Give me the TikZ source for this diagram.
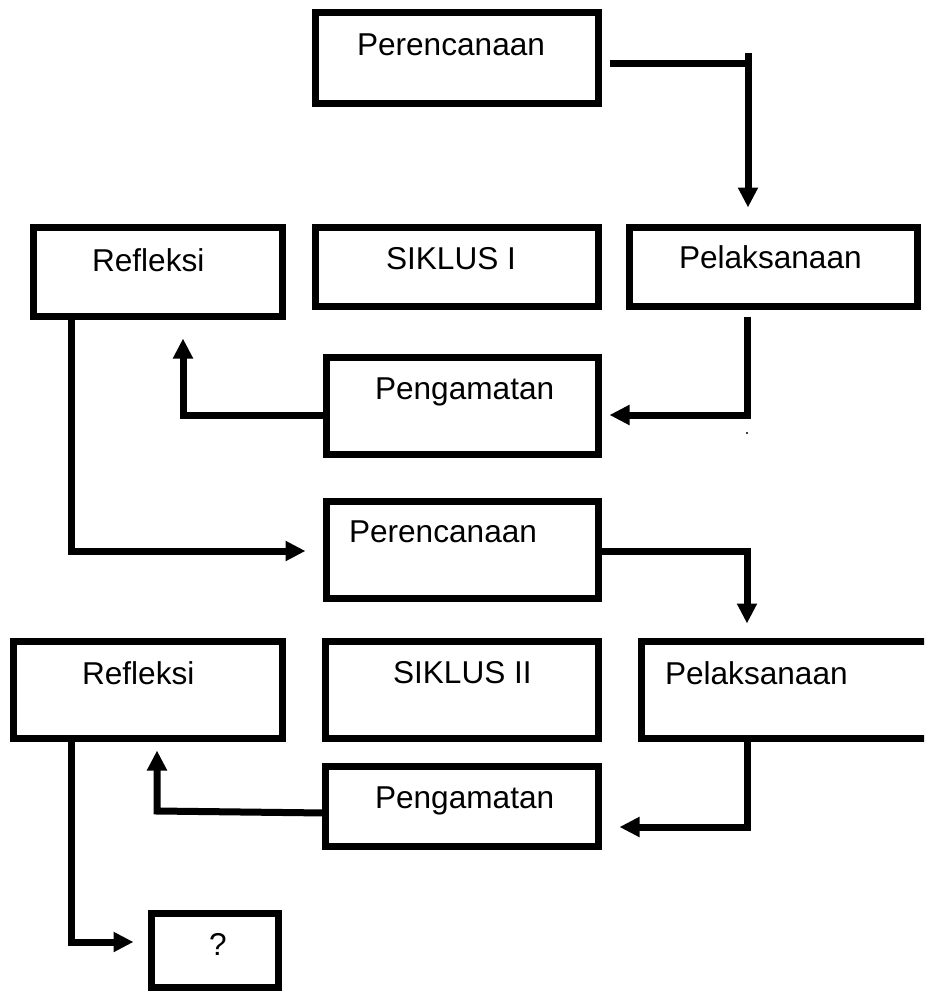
\documentclass[tikz,border=0pt]{standalone}
\usepackage{fontspec}
\setmainfont{Liberation Sans}
\usetikzlibrary{arrows.meta}
\tikzset{
  box/.style={draw, line width=7pt, inner sep=0pt, outer sep=0pt, rectangle},
  lbl/.style={inner sep=0pt, outer sep=0pt, anchor=base west, font=\fontsize{31.6pt}{36pt}\selectfont},
  wire/.style={line width=7pt, line join=miter},
  arr/.style={wire, -{Triangle[length=20pt,width=19pt]}}
}
\begin{document}
\begin{tikzpicture}[x=1pt,y=-1pt]
\useasboundingbox (0,0) rectangle (924,993);
\clip (0,0) rectangle (924,993);
% boxes
\node[box, minimum width=283pt, minimum height=91pt] (P1) at (457,58) {};
\node[box, minimum width=249pt, minimum height=89pt] (R1) at (158,272) {};
\node[box, minimum width=283pt, minimum height=79pt] (S1) at (457,267) {};
\node[box, minimum width=288pt, minimum height=79pt] (L1) at (773.5,267) {};
\node[box, minimum width=272pt, minimum height=97pt] (G1) at (462.5,406) {};
\node[box, minimum width=272pt, minimum height=97pt] (P2) at (462.5,550) {};
\node[box, minimum width=269pt, minimum height=97pt] (R2) at (148,690) {};
\node[box, minimum width=273pt, minimum height=97pt] (S2) at (462,690) {};
\node[box, minimum width=293pt, minimum height=97pt] (L2) at (788,690) {};
\node[box, minimum width=273pt, minimum height=80pt] (G2) at (462,806.5) {};
\node[box, minimum width=127pt, minimum height=74pt] (Q) at (215,950.5) {};
% texts
\node[lbl] (tP1) at (357,55) {Perencanaan};
\node[lbl] (tR1) at (92,271) {Refleksi};
\node[lbl] (tS1) at (386,269) {SIKLUS I};
\node[lbl] (tL1) at (679,268) {Pelaksanaan};
\node[lbl] (tG1) at (375,399) {Pengamatan};
\node[lbl] (tP2) at (349,542) {Perencanaan};
\node[lbl] (tR2) at (82,684) {Refleksi};
\node[lbl] (tS2) at (393,683) {SIKLUS II};
\node[lbl] (tL2) at (665,684) {Pelaksanaan};
\node[lbl] (tG2) at (375,808) {Pengamatan};
\node[lbl] (tQ) at (209,955) {?};
% connectors
\coordinate (k1) at (748,63);
\coordinate (k1top) at (748,53);
\draw[wire] ([shift={(11,5)}]P1.east) -- (k1);
\draw[arr] (k1top) -- ([shift={(-25.5,-20)}]L1.north);
\draw[arr] ([shift={(-26.5,10)}]L1.south) |- ([shift={(11,9)}]G1.east);
\fill (747,433) circle (1.2pt);
\draw[arr] ([shift={(0,9)}]G1.west) -| ([shift={(25,22)}]R1.south);
\draw[arr] ([shift={(-87,0)}]R1.south) |- ([shift={(-21,1)}]P2.west);
\draw[arr] ([shift={(0,1)}]P2.east) -| ([shift={(-41,-18)}]L2.north);
\draw[arr] ([shift={(-41,0)}]L2.south) |- ([shift={(21,20.5)}]G2.east);
\coordinate (k7) at (157,811);
\draw[arr] ([shift={(0,6.5)}]G2.west) -- (k7) -- ([shift={(9,12)}]R2.south);
\draw[arr] ([shift={(-77,0)}]R2.south) |- ([shift={(-18,-8.5)}]Q.west);
\end{tikzpicture}
\end{document}
